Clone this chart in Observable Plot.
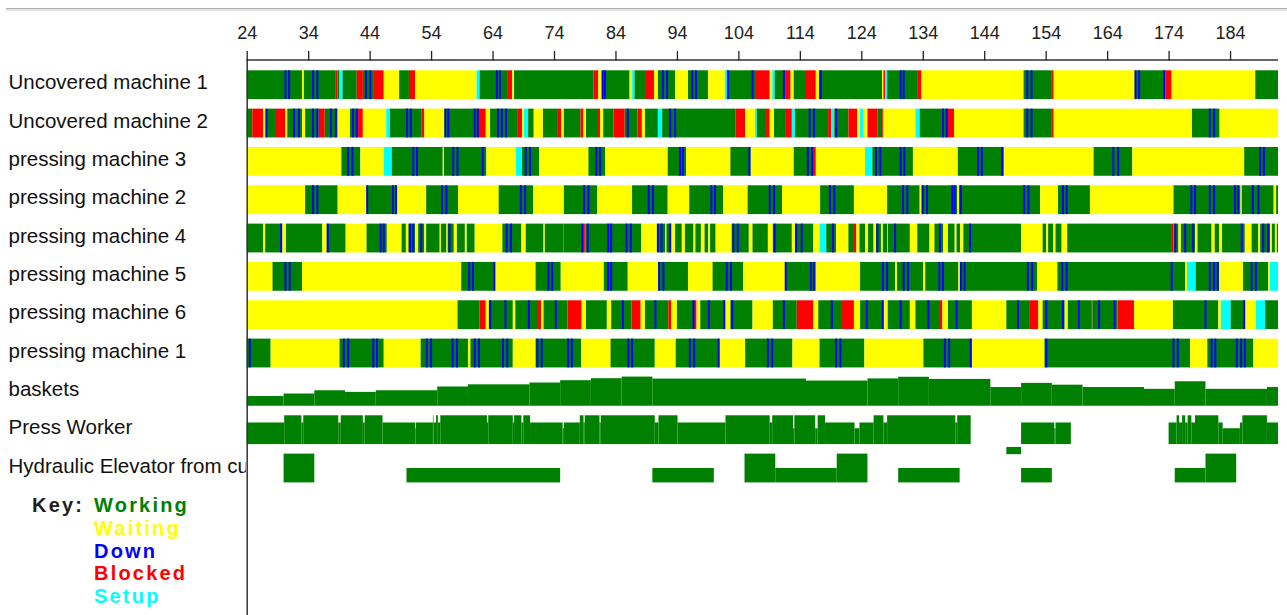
<!DOCTYPE html>
<html><head><meta charset="utf-8">
<script src="https://cdn.jsdelivr.net/npm/d3@7"></script>
<script src="https://cdn.jsdelivr.net/npm/@observablehq/plot@0.6"></script>
<style>
body{margin:0;background:#fff;}
#wrap{position:relative;width:1287px;height:615px;overflow:hidden;font-family:"Liberation Sans",Arial,sans-serif;}
#chart{position:absolute;left:0;top:0;}
#topline{position:absolute;left:6px;right:0;top:8px;height:1px;background:#b0b0b0;border-bottom:2px solid #e4e4e4;}
#keylabel{position:absolute;left:32px;top:494px;font:bold 20px "Liberation Sans",Arial,sans-serif;letter-spacing:2.2px;line-height:22.8px;color:#202020;}
#keyitems{position:absolute;left:94px;top:494px;font:bold 20px "Liberation Sans",Arial,sans-serif;letter-spacing:2.2px;line-height:22.8px;}
</style></head><body>
<div id="wrap"><div id="chart"></div><div id="topline"></div><div id="keylabel">Key:</div><div id="keyitems"></div></div>
<script>
// ---------------- data ----------------
const ROWS = ["Uncovered machine 1","Uncovered machine 2","pressing machine 3","pressing machine 2","pressing machine 4","pressing machine 5","pressing machine 6","pressing machine 1","baskets","Press Worker","Hydraulic Elevator from cutting"];
const STATES = ["W","Y","D","B","S"];
const STATE_NAMES = ["Working","Waiting","Down","Blocked","Setup"];
const STATE_COLORS = ["#008000","#ffff00","#0000ff","#ff0000","#00ffff"];
const T_START = 24, T_END = 191.8;
const TICKS = [24,34,44,54,64,74,84,94,104,114,124,134,144,154,164,174,184];

// state runs: [start time, state]; each run lasts until the next start
const um1Runs = [[24.0,"W"],[33.0,"Y"],[33.3,"W"],[38.5,"B"],[38.8,"W"],[39.1,"S"],[39.6,"W"],[41.9,"B"],[42.9,"W"],[44.7,"B"],[46.3,"Y"],[48.8,"W"],[50.4,"B"],[51.4,"Y"],[61.4,"S"],[61.9,"W"],[66.5,"B"],[67.2,"Y"],[67.5,"W"],[80.4,"B"],[81.2,"Y"],[81.9,"W"],[86.3,"Y"],[86.7,"S"],[87.1,"W"],[88.8,"B"],[90.3,"Y"],[90.9,"W"],[93.7,"Y"],[95.8,"W"],[98.9,"B"],[99.1,"Y"],[101.8,"S"],[102.2,"W"],[106.7,"B"],[109.1,"Y"],[109.5,"S"],[109.9,"W"],[111.6,"B"],[112.5,"Y"],[113.0,"W"],[115.0,"B"],[116.6,"Y"],[117.1,"W"],[127.4,"Y"],[127.6,"B"],[127.9,"S"],[128.2,"W"],[133.2,"B"],[133.8,"Y"],[150.4,"W"],[155.0,"B"],[155.3,"Y"],[168.6,"W"],[173.5,"B"],[174.5,"Y"],[188.1,"W"]];
const um1Downs = [30.3,30.9,34.8,35.5,43.4,44.1,64.7,65.2,81.9,82.3,91.7,92.4,96.5,97.1,102.3,106.3,111.4,117.4,130.4,130.9,151.0,151.7,168.6,169.2,173.3];

const um2Runs = [[24.0,"W"],[24.9,"B"],[26.7,"Y"],[27.2,"W"],[28.6,"B"],[30.3,"Y"],[30.6,"W"],[33.0,"Y"],[33.5,"W"],[35.7,"B"],[36.7,"W"],[38.8,"Y"],[40.8,"W"],[42.1,"B"],[42.9,"Y"],[46.7,"S"],[47.3,"W"],[52.4,"B"],[52.9,"Y"],[56.3,"W"],[61.6,"B"],[62.9,"Y"],[63.6,"W"],[68.0,"B"],[68.8,"Y"],[69.1,"S"],[69.8,"W"],[70.7,"Y"],[72.2,"W"],[74.5,"B"],[75.2,"Y"],[75.6,"W"],[78.3,"B"],[78.8,"Y"],[79.2,"W"],[81.0,"B"],[81.5,"Y"],[82.0,"W"],[83.7,"B"],[85.5,"W"],[87.6,"B"],[88.3,"Y"],[88.8,"W"],[90.9,"S"],[91.6,"W"],[103.5,"B"],[105.1,"Y"],[106.7,"S"],[107.0,"W"],[108.5,"B"],[109.1,"Y"],[109.8,"W"],[111.6,"B"],[112.7,"S"],[113.2,"W"],[118.6,"B"],[119.1,"S"],[119.6,"W"],[121.9,"B"],[123.3,"Y"],[123.8,"S"],[124.3,"Y"],[125.0,"B"],[126.6,"W"],[127.4,"B"],[127.6,"Y"],[132.8,"S"],[133.5,"W"],[138.1,"B"],[139.1,"Y"],[150.4,"W"],[155.0,"B"],[155.3,"Y"],[177.8,"W"],[182.3,"Y"]];
const um2Downs = [27.2,31.7,32.5,34.8,35.5,37.7,38.5,41.3,41.9,50.1,50.7,56.3,56.8,61.1,61.6,64.9,65.5,66.2,86.0,92.9,93.7,115.6,116.3,119.9,137.3,137.9,151.0,151.7,180.7,181.4];

const pm3Runs = [[24.0,"Y"],[39.4,"W"],[42.5,"Y"],[46.3,"S"],[47.6,"W"],[55.9,"Y"],[56.1,"W"],[63.0,"Y"],[67.8,"S"],[68.8,"W"],[71.6,"Y"],[79.6,"W"],[82.3,"Y"],[92.5,"W"],[95.5,"Y"],[102.7,"W"],[106.0,"Y"],[113.0,"W"],[116.1,"B"],[116.6,"Y"],[124.6,"S"],[125.8,"W"],[132.4,"Y"],[139.7,"W"],[147.2,"Y"],[161.8,"W"],[168.1,"Y"],[186.3,"W"]];
const pm3Downs = [40.5,41.2,51.1,51.7,57.6,58.3,62.4,69.4,70.1,80.9,81.5,94.5,95.0,105.8,115.3,116.0,126.4,127.1,130.4,131.0,143.0,143.6,146.9,165.0,165.8,188.9,189.5];

const pm2Runs = [[24.0,"Y"],[33.5,"W"],[38.8,"Y"],[43.6,"W"],[48.5,"Y"],[53.2,"W"],[58.4,"Y"],[65.0,"W"],[70.6,"Y"],[75.6,"W"],[81.0,"Y"],[86.7,"W"],[92.5,"Y"],[96.0,"W"],[101.5,"Y"],[105.5,"W"],[111.1,"Y"],[117.3,"W"],[122.8,"Y"],[128.2,"W"],[133.5,"Y"],[133.8,"W"],[139.6,"Y"],[139.9,"W"],[153.1,"Y"],[156.0,"W"],[161.2,"Y"],[174.8,"W"],[185.7,"Y"],[185.9,"W"],[191.1,"Y"],[191.5,"W"]];
const pm2Downs = [34.8,35.5,43.6,47.8,48.3,55.8,56.5,68.6,69.3,78.9,79.6,89.4,90.1,99.6,100.2,109.1,109.8,118.9,119.6,130.8,131.5,134.0,134.7,138.8,139.2,140.2,150.5,151.2,156.8,157.4,177.7,178.3,180.7,181.4,184.8,185.3,187.7,188.6];

const pm4Runs = [[24.0,"W"],[26.7,"Y"],[27.0,"W"],[29.8,"Y"],[30.4,"W"],[36.3,"Y"],[37.0,"W"],[40.1,"Y"],[43.5,"W"],[46.8,"Y"],[49.2,"W"],[49.9,"Y"],[50.3,"W"],[51.4,"Y"],[51.9,"W"],[52.9,"Y"],[53.2,"W"],[55.4,"Y"],[55.6,"W"],[56.5,"Y"],[56.7,"W"],[57.7,"Y"],[58.2,"W"],[59.5,"Y"],[59.8,"W"],[61.1,"Y"],[65.6,"W"],[68.7,"Y"],[69.4,"W"],[72.3,"Y"],[72.5,"W"],[75.5,"B"],[75.6,"W"],[78.9,"B"],[79.1,"W"],[88.2,"Y"],[90.9,"W"],[92.1,"Y"],[92.3,"W"],[93.1,"Y"],[93.7,"W"],[94.8,"Y"],[95.3,"W"],[96.7,"Y"],[97.0,"W"],[97.9,"Y"],[98.5,"W"],[99.1,"Y"],[99.4,"W"],[100.3,"Y"],[102.9,"W"],[105.7,"Y"],[106.3,"W"],[108.8,"Y"],[109.6,"W"],[112.7,"Y"],[113.2,"W"],[116.2,"Y"],[117.2,"S"],[118.3,"W"],[119.9,"Y"],[121.9,"W"],[122.8,"B"],[123.2,"Y"],[123.7,"W"],[124.6,"Y"],[125.1,"W"],[126.0,"Y"],[126.4,"W"],[127.2,"Y"],[127.5,"W"],[128.2,"Y"],[128.3,"W"],[131.9,"Y"],[133.1,"W"],[135.1,"Y"],[135.9,"W"],[137.3,"Y"],[138.1,"W"],[139.2,"Y"],[139.5,"W"],[140.1,"Y"],[140.6,"W"],[150.0,"Y"],[153.5,"W"],[154.1,"Y"],[154.4,"W"],[155.2,"Y"],[155.6,"W"],[156.6,"Y"],[157.5,"W"],[174.4,"B"],[174.8,"W"],[175.6,"Y"],[176.0,"W"],[178.3,"Y"],[178.7,"W"],[181.0,"Y"],[181.5,"W"],[182.2,"Y"],[182.7,"W"],[186.4,"Y"],[187.5,"W"],[188.6,"Y"],[188.9,"W"],[190.5,"Y"],[190.8,"W"],[191.3,"Y"],[191.6,"W"]];
const pm4Downs = [29.6,37.2,45.8,46.3,50.6,51.1,52.4,57.0,66.3,67.0,78.6,79.5,82.8,83.3,85.8,86.5,90.9,91.5,92.9,103.2,103.9,109.9,113.4,114.3,119.4,126.6,129.5,136.8,141.7,175.1,176.7,178.0,185.9,189.4,190.2];

const pm5Runs = [[24.0,"Y"],[28.2,"W"],[33.0,"Y"],[58.9,"W"],[64.4,"Y"],[71.0,"W"],[75.1,"Y"],[82.1,"W"],[86.0,"Y"],[91.0,"W"],[95.8,"Y"],[99.8,"W"],[104.8,"Y"],[111.6,"W"],[116.6,"Y"],[123.8,"W"],[129.5,"Y"],[129.8,"W"],[134.1,"Y"],[134.4,"W"],[139.8,"Y"],[140.1,"W"],[152.6,"Y"],[155.9,"W"],[176.7,"Y"],[177.0,"S"],[178.4,"W"],[182.2,"Y"],[186.1,"W"],[190.2,"Y"],[190.5,"S"]];
const pm5Downs = [30.3,31.0,60.2,60.8,64.3,73.1,73.7,82.8,83.3,91.1,91.8,102.1,102.8,111.7,115.8,116.3,127.5,128.2,130.9,131.6,136.7,137.3,140.2,140.8,151.1,151.8,156.7,157.4,174.5,180.7,181.4,182.0,187.5,188.2];

const pm6Runs = [[24.0,"Y"],[58.3,"W"],[61.9,"B"],[62.9,"Y"],[63.4,"W"],[67.3,"Y"],[67.7,"W"],[71.4,"B"],[71.9,"Y"],[72.3,"W"],[76.2,"B"],[78.5,"Y"],[79.2,"W"],[82.6,"Y"],[83.3,"W"],[86.6,"B"],[88.1,"Y"],[88.8,"W"],[92.6,"B"],[93.1,"Y"],[94.0,"W"],[96.7,"B"],[97.2,"Y"],[97.8,"W"],[101.9,"Y"],[102.7,"W"],[106.3,"Y"],[109.6,"W"],[113.5,"B"],[116.2,"Y"],[117.0,"W"],[120.7,"B"],[122.8,"Y"],[123.8,"W"],[127.6,"Y"],[128.3,"W"],[131.9,"Y"],[132.8,"W"],[136.8,"B"],[137.2,"Y"],[138.1,"W"],[142.0,"Y"],[147.6,"W"],[151.3,"B"],[152.8,"Y"],[153.5,"W"],[157.1,"Y"],[157.6,"W"],[161.4,"B"],[161.6,"W"],[165.7,"B"],[168.4,"Y"],[174.7,"W"],[182.1,"Y"],[182.5,"S"],[184.1,"W"],[186.4,"Y"],[188.2,"S"],[189.7,"W"]];
const pm6Downs = [63.6,66.1,69.9,74.3,85.2,90.5,96.7,99.2,101.7,103.0,111.4,119.2,124.9,127.5,130.4,134.9,139.5,149.5,154.1,156.8,159.4,162.7,165.2,180.0,186.3];

const pm1Runs = [[24.0,"W"],[27.9,"Y"],[39.1,"W"],[46.3,"Y"],[52.3,"W"],[60.0,"Y"],[60.4,"W"],[67.3,"Y"],[71.0,"W"],[78.4,"Y"],[83.2,"W"],[90.4,"Y"],[93.8,"W"],[100.9,"Y"],[105.1,"W"],[112.8,"Y"],[117.2,"W"],[124.5,"Y"],[134.1,"W"],[142.0,"Y"],[153.8,"W"],[177.5,"Y"],[180.3,"W"],[187.8,"Y"]];
const pm1Downs = [24.5,39.8,40.5,44.6,45.2,53.3,54.0,57.5,58.2,61.1,61.8,65.7,66.4,71.3,72.0,76.3,76.9,86.1,86.7,96.1,96.8,100.8,108.8,109.5,119.9,120.6,137.6,138.3,141.8,154.1,174.8,175.5,181.0,181.6,185.1,185.8,186.4];

const machineRuns = [um1Runs, um2Runs, pm3Runs, pm2Runs, pm4Runs, pm5Runs, pm6Runs, pm1Runs];
const machineDowns = [um1Downs, um2Downs, pm3Downs, pm2Downs, pm4Downs, pm5Downs, pm6Downs, pm1Downs];
const DOWN_HALF = 0.16; // half-duration of each short breakdown

// baskets in buffer: [start, count]
const basketSteps = [[24,5.4],[30,6.8],[35,8.6],[40,7.7],[45,8.6],[55,10.7],[60,11.9],[70,12.9],[75,14.2],[80,15.3],[85,16.2],[90,15.1],[115,14.0],[125,15.2],[130,16.1],[135,14.9],[145,10.4],[150,12.7],[155,11.7],[160,10.4],[170,9.4],[175,13.6],[180,9.4],[190,10.4]];
const BASKET_CAP = 16;

// press workers busy: [start, level]
const workerRuns = [[24.0,3],[30.1,4],[32.9,3],[33.2,4],[38.9,3],[39.3,4],[42.9,3],[43.2,4],[46.1,3],[51.4,2.2],[51.5,3],[54.3,4],[54.4,3],[54.8,4],[55.1,3],[55.5,4],[63.1,3],[63.3,4],[67.3,3],[67.5,4],[68.7,3],[69.0,4],[70.1,3],[75.4,2.2],[75.6,3],[78.2,4],[78.8,3],[79.0,4],[81.4,3],[81.6,4],[90.4,3],[91.0,4],[94.1,3],[101.9,4],[109.1,3],[109.5,4],[112.9,2.2],[113.1,4],[116.5,2.2],[116.9,4],[118.1,3],[122.9,2.2],[123.7,3],[126.0,4],[127.6,3],[128.2,4],[139.3,3],[139.6,4],[141.8,0],[150.0,3],[155.4,2.2],[155.6,3],[158.1,0],[174.0,3],[175.3,4],[175.7,3],[176.2,4],[176.7,3],[177.1,4],[177.7,3],[178.3,4],[182.1,3],[182.8,2.2],[185.6,3],[186.0,4],[190.0,3]];
const workerExtra = [[147.6,150.0,-1.4,-0.4]]; // [start, end, low, high]
const WORKER_CAP = 4;

// hydraulic elevator: [start, end, level]
const elevatorRuns = [[30,35,2],[50,75,1],[90,100,1],[105,110,2],[110,120,1],[120,125,2],[130,140,1],[150,155,1],[175,180,1],[180,185,2]];
const ELEV_CAP = 2;

// ---------------- layout ----------------
const MARGIN_LEFT = 246.7, MARGIN_RIGHT = 9, AXIS_Y = 59.5, H = 615, W = 1287;
const ROW_BW = 0.7514;            // bar thickness in row units
const Y0 = -0.2818, Y1 = 14.2107; // row-unit extent of [AXIS_Y, H]
const LABEL_X = 8;

function toSegs(runs, end) {
  return runs.map((r, k) => ({x1: r[0], x2: k + 1 < runs.length ? runs[k + 1][0] : end, v: r[1]}));
}
const machineSegs = machineRuns.flatMap((runs, i) =>
  toSegs(runs, T_END).map(s => ({x1: s.x1, x2: s.x2, y1: i, y2: i + ROW_BW, state: s.v})));
const downSegs = machineDowns.flatMap((ts, i) =>
  ts.map(t => ({x1: t - DOWN_HALF, x2: t + DOWN_HALF, y1: i, y2: i + ROW_BW, state: "D"})));
const bRow = 8, wRow = 9, eRow = 10;
const levelSegs = [
  ...toSegs(basketSteps, T_END).map(s => ({x1: s.x1, x2: s.x2, y1: bRow + ROW_BW - s.v / BASKET_CAP * ROW_BW, y2: bRow + ROW_BW, state: "W"})),
  ...toSegs(workerRuns, T_END).filter(s => s.v > 0).map(s => ({x1: s.x1, x2: s.x2, y1: wRow + ROW_BW - s.v / WORKER_CAP * ROW_BW, y2: wRow + ROW_BW, state: "W"})),
  ...workerExtra.map(e => ({x1: e[0], x2: e[1], y1: wRow + ROW_BW - e[3] / WORKER_CAP * ROW_BW, y2: wRow + ROW_BW - e[2] / WORKER_CAP * ROW_BW, state: "W"})),
  ...elevatorRuns.map(e => ({x1: e[0], x2: e[1], y1: eRow + ROW_BW - e[2] / ELEV_CAP * ROW_BW, y2: eRow + ROW_BW, state: "W"}))
];
const labelData = ROWS.map((name, i) => ({name, y: i + ROW_BW / 2}));

const chart = Plot.plot({
  width: W, height: H,
  marginLeft: MARGIN_LEFT, marginRight: MARGIN_RIGHT, marginTop: AXIS_Y, marginBottom: 0,
  style: {fontFamily: "'Liberation Sans', Arial, sans-serif", background: "transparent", overflow: "visible"},
  x: {domain: [T_START, T_END], axis: null},
  y: {domain: [Y0, Y1], range: [AXIS_Y, H], axis: null},
  color: {domain: STATES, range: STATE_COLORS},
  marks: [
    Plot.rect(machineSegs, {x1: "x1", x2: "x2", y1: "y1", y2: "y2", fill: "state"}),
    Plot.rect(downSegs, {x1: "x1", x2: "x2", y1: "y1", y2: "y2", fill: "state"}),
    Plot.rect(levelSegs, {x1: "x1", x2: "x2", y1: "y1", y2: "y2", fill: "state"}),
    Plot.ruleY([Y0], {x1: T_START, x2: T_END, stroke: "#333", strokeWidth: 1.3}),
    Plot.ruleX([T_START], {y1: Y0, y2: Y1, stroke: "#333", strokeWidth: 1.5}),
    Plot.axisX({ticks: TICKS, anchor: "top", tickSize: 9.5, tickPadding: 12, fontSize: 18, color: "#222", strokeWidth: 1.3, tickFormat: d => String(d)}),
    Plot.text(labelData, {y: "y", text: "name", frameAnchor: "left", dx: LABEL_X - MARGIN_LEFT, dy: -2.5, textAnchor: "start", fontSize: 20.5, fill: "#111"})
  ]
});
document.getElementById("chart").appendChild(chart);

// clip the row labels at the left axis line, as in the original
const svg = d3.select(chart);
svg.append("defs").append("clipPath").attr("id", "lblclip")
  .append("rect").attr("x", 0).attr("y", 0).attr("width", MARGIN_LEFT - 0.8).attr("height", H);
const lblText = svg.selectAll("text").filter(function() { return ROWS.includes(this.textContent); });
if (!lblText.empty()) {
  const lblG = lblText.node().parentNode;
  const clipWrap = svg.append("g").attr("clip-path", "url(#lblclip)");
  clipWrap.node().appendChild(lblG);
}

const keyItems = document.getElementById("keyitems");
STATE_NAMES.forEach((n, i) => {
  const d = document.createElement("div");
  d.textContent = n; d.style.color = STATE_COLORS[i];
  keyItems.appendChild(d);
});
</script>
</body></html>
